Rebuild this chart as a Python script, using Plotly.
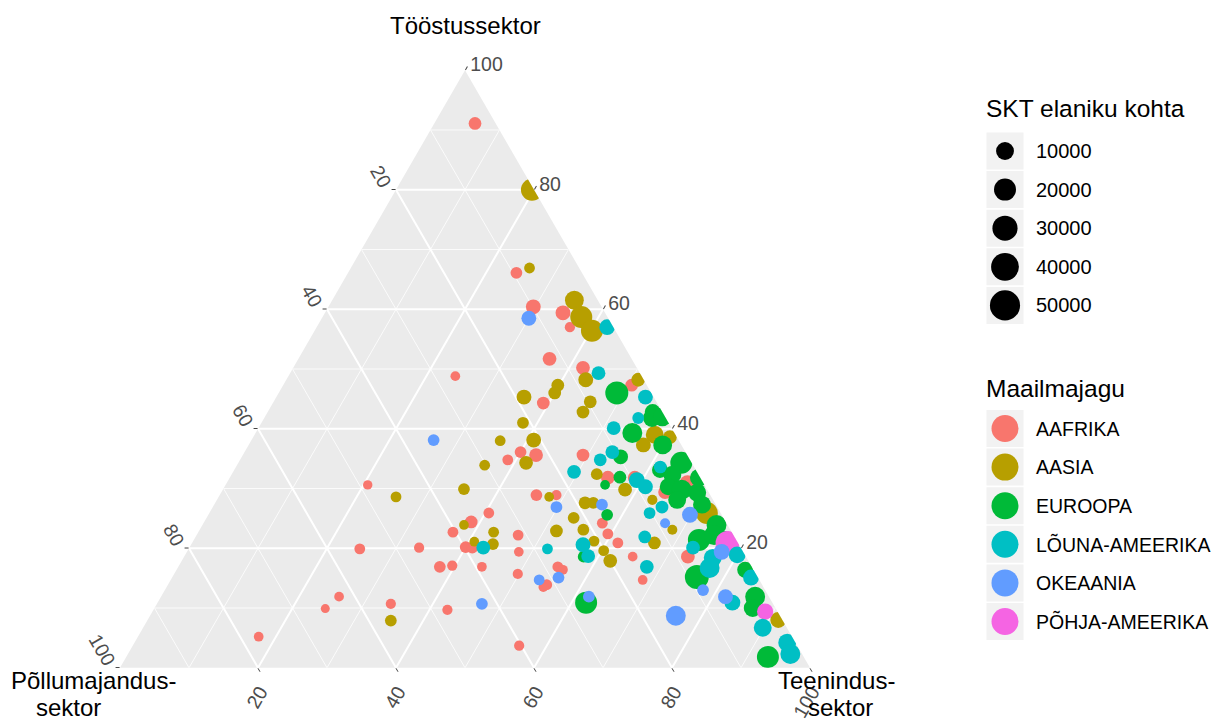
import numpy as np
import plotly.graph_objects as go

FONT = "Liberation Sans, Arial, sans-serif"

REGIONS = ["AAFRIKA", "AASIA", "EUROOPA", "LÕUNA-AMEERIKA", "OKEAANIA", "PÕHJA-AMEERIKA"]
COLORS = ["#F8766D", "#B79F00", "#00BA38", "#00BFC4", "#619CFF", "#F564E3"]

# Sector shares of the economy (%) and GDP per capita for each country.
# Agriculture is the remainder: 100 - industry - services.
aafrika_toostus = [91.1, 66.1, 60.4, 59.4, 57.0, 51.7, 48.8, 44.3, 36.1, 35.6, 34.8, 30.6, 28.9,
                   28.9, 25.9, 24.4, 22.7, 22.2, 50.2, 47.3, 31.8, 31.8, 30.9, 29.4, 18.6, 14.7,
                   18.6, 20.9, 24.2, 22.4, 35.6, 19.4, 15.7, 16.9, 16.4, 13.9, 13.5, 3.7, 20.2,
                   20.1, 19.9, 20.1, 16.9, 17.1, 16.9, 11.9, 9.9, 10.7, 9.7, 5.2]
aafrika_teenindus = [5.9, 24.4, 29.7, 34.5, 36.7, 36.4, 24.2, 39.2, 40.0, 42.5, 38.8, 20.6, 45.9,
                     48.8, 40.5, 38.7, 36.9, 46.6, 42.0, 50.5, 54.8, 58.7, 66.8, 64.3, 73.0, 68.4,
                     65.0, 61.7, 57.8, 59.5, 49.3, 48.1, 49.8, 55.0, 56.0, 54.9, 54.6, 56.0, 40.0,
                     41.0, 24.8, 33.3, 37.9, 39.6, 44.0, 25.8, 24.8, 33.9, 42.6, 17.5]
aafrika_skt = [2300, 1450, 4800, 4800, 500, 3400, 300, 2300, 1450, 3400, 800, 200, 1450,
               500, 800, 2300, 800, 800, 3400, 2300, 3400, 3400, 6300, 3400, 3400, 300,
               300, 800, 800, 800, 2300, 300, 500, 800, 300, 800, 300, 500, 1450,
               1450, 800, 500, 1450, 500, 300, 300, 100, 500, 500, 300]

aasia_toostus = [80.0, 66.9, 61.5, 58.7, 56.4, 45.3, 47.3, 46.0, 41.0, 38.0, 38.1, 34.3, 33.9,
                 28.6, 29.9, 28.6, 23.9, 22.7, 22.9, 48.2, 48.2, 44.5, 42.8, 39.0, 37.3, 38.6,
                 29.8, 28.1, 25.9, 23.1, 20.9, 8.0, 23.1, 21.2, 19.6, 17.9, 25.1, 27.6, 27.6,
                 32.4, 20.7, 21.1, 7.9]
aasia_teenindus = [19.7, 25.9, 35.1, 37.5, 40.2, 35.9, 39.8, 40.0, 37.9, 36.1, 40.9, 41.7, 35.9,
                   25.7, 34.9, 47.9, 37.9, 42.8, 51.8, 43.4, 51.0, 45.9, 45.7, 58.0, 57.2, 60.4,
                   58.3, 63.1, 72.1, 68.5, 67.0, 91.4, 55.6, 58.1, 60.3, 62.1, 53.2, 53.6, 54.8,
                   52.9, 43.7, 40.8, 35.3]
aasia_skt = [20000, 800, 12000, 20000, 20000, 4800, 2300, 2300, 1450, 800, 4800, 3400, 800,
             800, 1450, 300, 300, 800, 2300, 4800, 3400, 2300, 2300, 10000, 4800, 3400,
             3400, 500, 20000, 400, 2300, 6300, 1450, 800, 800, 3400, 1450, 2300, 1450,
             1450, 1450, 300, 1450]

euroopa_toostus = [46.0, 42.8, 41.8, 39.3, 37.3, 35.3, 34.3, 33.1, 31.9, 32.3, 30.3, 29.8, 28.1,
                   29.3, 27.3, 23.9, 21.4, 15.2, 11.9, 10.0, 1.8, 25.6, 18.6, 30.6, 10.9, 42.0,
                   22.2, 31.8, 21.4, 16.4]
euroopa_teenindus = [49.0, 55.8, 56.2, 54.6, 60.0, 54.9, 64.2, 61.7, 56.5, 63.9, 64.3, 66.5, 66.7,
                     69.0, 70.7, 74.5, 73.2, 76.0, 86.1, 86.7, 93.0, 57.8, 57.9, 55.0, 62.1, 57.6,
                     75.0, 68.0, 77.0, 82.4]
euroopa_skt = [23000, 6300, 10000, 14500, 12000, 4800, 20000, 6300, 2300, 10000, 8000, 14500, 10000,
               10000, 10000, 14500, 20000, 26000, 14500, 10000, 20000, 1450, 1450, 300, 20000, 12000,
               14500, 10000, 10000, 6300]

louna_toostus = [57.0, 49.3, 45.3, 41.8, 40.1, 36.1, 31.4, 30.3, 26.9, 25.9, 21.9, 18.9, 18.4,
                 16.7, 20.1, 10.9, 15.1, 6.7, 4.2, 2.3, 16.9, 20.6, 18.7, 32.8, 34.8, 19.9,
                 20.1, 33.6]
louna_teenindus = [42.1, 44.7, 53.5, 54.2, 51.5, 53.3, 59.2, 61.0, 65.1, 63.8, 65.1, 80.0, 76.7,
                   77.1, 73.0, 83.3, 83.9, 89.8, 94.6, 96.0, 67.9, 56.8, 58.5, 49.4, 52.2, 52.0,
                   42.6, 61.5]
louna_skt = [6000, 3400, 4800, 1450, 3400, 3400, 6300, 4800, 2300, 1450, 2300, 8000, 10000,
             14500, 3400, 6300, 6300, 10000, 10000, 14500, 3400, 4800, 3400, 3400, 2300, 800,
             3400, 2300]

okeaania_toostus = [58.5, 38.1, 26.9, 25.6, 24.2, 19.4, 13.0, 11.9, 8.7, 27.3, 15.1, 14.7, 11.9, 10.7]
okeaania_teenindus = [30.0, 26.4, 49.8, 69.8, 66.9, 77.5, 78.0, 81.8, 76.2, 56.2, 56.0, 53.4, 62.0, 47.1]
okeaania_skt = [4800, 1450, 1450, 6300, 400, 6300, 1450, 4800, 14500, 1450, 1450, 800, 1450, 1450]

pohja_toostus = [20.9, 9.4]
pohja_teenindus = [77.6, 88.8]
pohja_skt = [26000, 7000]

series = {
    "AAFRIKA": (aafrika_toostus, aafrika_teenindus, aafrika_skt),
    "AASIA": (aasia_toostus, aasia_teenindus, aasia_skt),
    "EUROOPA": (euroopa_toostus, euroopa_teenindus, euroopa_skt),
    "LÕUNA-AMEERIKA": (louna_toostus, louna_teenindus, louna_skt),
    "OKEAANIA": (okeaania_toostus, okeaania_teenindus, okeaania_skt),
    "PÕHJA-AMEERIKA": (pohja_toostus, pohja_teenindus, pohja_skt),
}
# drawing order of the point layers (later ones sit on top)
DRAW_ORDER = ["AAFRIKA", "AASIA", "EUROOPA", "PÕHJA-AMEERIKA", "LÕUNA-AMEERIKA", "OKEAANIA"]

SIZE_BREAKS = [10000, 20000, 30000, 40000, 50000]
GRID_MINOR = [10, 30, 50, 70, 90]
TICK_VALS = [0, 20, 40, 60, 80]
TICK_TEXT = ["100", "80", "60", "40", "20"]


def marker_px(gdp):
    """Point diameter grows with the square root of GDP per capita (area scale)."""
    return 8 + 9.9 * np.sqrt(np.asarray(gdp, dtype=float) / 10000)


fig = go.Figure()

# thin minor grid lines at 10, 30, ... in all three directions
for v in GRID_MINOR:
    for a, b, c in (
        ([v, v], [100 - v, 0], [0, 100 - v]),
        ([100 - v, 0], [v, v], [0, 100 - v]),
        ([100 - v, 0], [0, 100 - v], [v, v]),
    ):
        fig.add_trace(go.Scatterternary(
            a=a, b=b, c=c, mode="lines",
            line=dict(color="white", width=0.8),
            hoverinfo="skip", showlegend=False,
        ))

color_of = dict(zip(REGIONS, COLORS))
for name in DRAW_ORDER:
    toostus, teenindus, skt = series[name]
    t = np.asarray(toostus, dtype=float)
    r = np.asarray(teenindus, dtype=float)
    p = 100 - t - r
    fig.add_trace(go.Scatterternary(
        a=t, b=p, c=r, mode="markers", name=name,
        marker=dict(color=color_of[name], size=marker_px(skt), opacity=1, line=dict(width=0)),
        customdata=np.asarray(skt),
        hovertemplate="Tööstus %{a:.1f}<br>Põllumajandus %{b:.1f}<br>Teenindus %{c:.1f}"
                      "<br>SKT %{customdata}<extra>" + name + "</extra>",
        showlegend=False,
    ))

axis_common = dict(
    tickmode="array", tickvals=TICK_VALS, ticktext=TICK_TEXT,
    ticks="outside", ticklen=4, tickwidth=1, tickcolor="#444444",
    tickfont=dict(family=FONT, size=19.5, color="#4D4D4D"),
    showline=False, showgrid=True, gridcolor="white", gridwidth=1.9,
    min=0, title=dict(text=""),
)

fig.update_layout(
    width=1214, height=722,
    margin=dict(l=0, r=0, t=0, b=0),
    paper_bgcolor="white", plot_bgcolor="white",
    showlegend=False,
    font=dict(family=FONT, color="black"),
    ternary=dict(
        sum=100,
        bgcolor="#EBEBEB",
        domain=dict(x=[120 / 1214, 810 / 1214], y=[1 - 678 / 722, 1 - 60 / 722]),
        aaxis=dict(axis_common, tickangle=60),
        baxis=dict(axis_common, tickangle=-60),
        caxis=dict(axis_common, tickangle=0),
    ),
    xaxis=dict(domain=[960 / 1214, 1], range=[960, 1214], visible=False, fixedrange=True),
    yaxis=dict(domain=[0, 1], range=[722, 0], visible=False, fixedrange=True),
)

# ---- legends, laid out on a hidden pixel-scaled cartesian panel ----
KEY_X = 1005
LABEL_X = 1034
TITLE_X = 984
size_y = [151 + 38.6 * i for i in range(len(SIZE_BREAKS))]
color_y = [428.5 + 38.6 * i for i in range(len(REGIONS))]

fig.add_trace(go.Scatter(
    x=[KEY_X] * (len(size_y) + len(color_y)), y=size_y + color_y, mode="markers",
    marker=dict(symbol="square", size=37, color="#F2F2F2", opacity=1, line=dict(width=0)),
    hoverinfo="skip", showlegend=False,
))
fig.add_trace(go.Scatter(
    x=[KEY_X] * len(size_y), y=size_y, mode="markers",
    marker=dict(color="black", size=marker_px(SIZE_BREAKS), opacity=1, line=dict(width=0)),
    hoverinfo="skip", showlegend=False,
))
fig.add_trace(go.Scatter(
    x=[KEY_X] * len(color_y), y=color_y, mode="markers",
    marker=dict(color=COLORS, size=27, opacity=1, line=dict(width=0)),
    hoverinfo="skip", showlegend=False,
))

annotations = [
    dict(x=TITLE_X, y=108, text="SKT elaniku kohta", font=dict(size=24.5)),
    dict(x=TITLE_X, y=388, text="Maailmajagu", font=dict(size=24.5)),
]
for v, y in zip(SIZE_BREAKS, size_y):
    annotations.append(dict(x=LABEL_X, y=y, text=str(v), font=dict(size=20)))
for name, y in zip(REGIONS, color_y):
    annotations.append(dict(x=LABEL_X, y=y, text=name, font=dict(size=19.5)))
for ann in annotations:
    fig.add_annotation(xref="x", yref="y", xanchor="left", yanchor="middle",
                       showarrow=False, font_family=FONT, font_color="black", **ann)

# vertex titles
vertex_titles = [
    dict(x=465, y=25, text="Tööstussektor"),
    dict(x=93, y=680, text="Põllumajandus-"),
    dict(x=68, y=707, text="sektor"),
    dict(x=836, y=680, text="Teenindus-"),
    dict(x=840, y=707, text="sektor"),
]
for ann in vertex_titles:
    fig.add_annotation(xref="paper", yref="paper", x=ann["x"] / 1214, y=1 - ann["y"] / 722,
                       text=ann["text"], xanchor="center", yanchor="middle",
                       showarrow=False, borderpad=0,
                       font=dict(family=FONT, size=24, color="black"))

fig.write_html("out.html")
